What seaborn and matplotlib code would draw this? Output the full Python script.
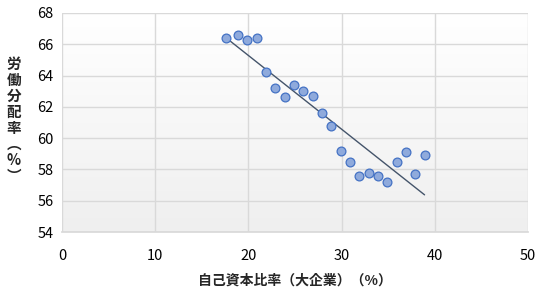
import numpy as np
import pandas as pd
import matplotlib
matplotlib.use("Agg")
import matplotlib.pyplot as plt
import seaborn as sns

equity_ratio = [17.6, 18.9, 19.9, 20.9, 21.9, 22.9, 23.9, 24.9, 25.9, 26.9, 27.9,
                28.9, 29.9, 30.9, 31.9, 32.9, 33.9, 34.9, 35.9, 36.9, 37.9, 38.9]
labor_share = [66.4, 66.6, 66.3, 66.4, 64.2, 63.2, 62.6, 63.4, 63.0, 62.7, 61.6,
               60.8, 59.2, 58.5, 57.6, 57.8, 57.6, 57.2, 58.5, 59.1, 57.7, 58.9]
x_ticks = [0, 10, 20, 30, 40, 50]
y_ticks = [54, 56, 58, 60, 62, 64, 66, 68]
x_label = "自己資本比率（大企業）（%）"
y_label = "労働分配率︵%︶"

df = pd.DataFrame({"x": equity_ratio, "y": labor_share})

sns.set_theme(style="white")
plt.rcParams["font.family"] = ["Noto Sans CJK JP", "DejaVu Sans"]

fig = plt.figure(figsize=(5.5, 3.06), dpi=100)
ax = fig.add_axes([62 / 550, 1 - 232 / 306, (528 - 62) / 550, (232 - 13) / 306])

# gradient background: white at top, light grey at bottom
grad = np.linspace(0.0, 1.0, 256).reshape(-1, 1)
cmap = matplotlib.colors.LinearSegmentedColormap.from_list("bg", ["#efefef", "#ffffff"])
ax.imshow(grad, aspect="auto", cmap=cmap, extent=[0, 50, 54, 68], origin="lower", zorder=0)

sns.regplot(data=df, x="x", y="y", ax=ax, ci=None, truncate=True,
            scatter_kws=dict(s=40, color="#8faadc", edgecolor="#4472c4", linewidths=0.9, alpha=1, zorder=3),
            line_kws=dict(color="#44546a", linewidth=1.0, zorder=2))

ax.set_xlim(0, 50)
ax.set_ylim(54, 68)
ax.set_xticks(x_ticks)
ax.set_yticks(y_ticks)
ax.grid(True, color="#d9d9d9", linewidth=1.0, zorder=1)
ax.set_axisbelow(True)
for s in ax.spines.values():
    s.set_visible(False)
ax.spines["bottom"].set_visible(True)
ax.spines["bottom"].set_color("#d9d9d9")
ax.tick_params(axis="both", length=0, labelsize=10.5, colors="#000000", pad=6)
ax.tick_params(axis="x", pad=12)
ax.set_xlabel(x_label, fontsize=10, fontweight="bold", labelpad=8)
ax.set_ylabel("")
fig.text(14 / 550, 1 - 120 / 306, "\n".join(y_label), rotation=0, ha="center", va="center",
         fontsize=10.5, fontweight="bold", linespacing=1.0)

fig.savefig("out.png", dpi=100)
